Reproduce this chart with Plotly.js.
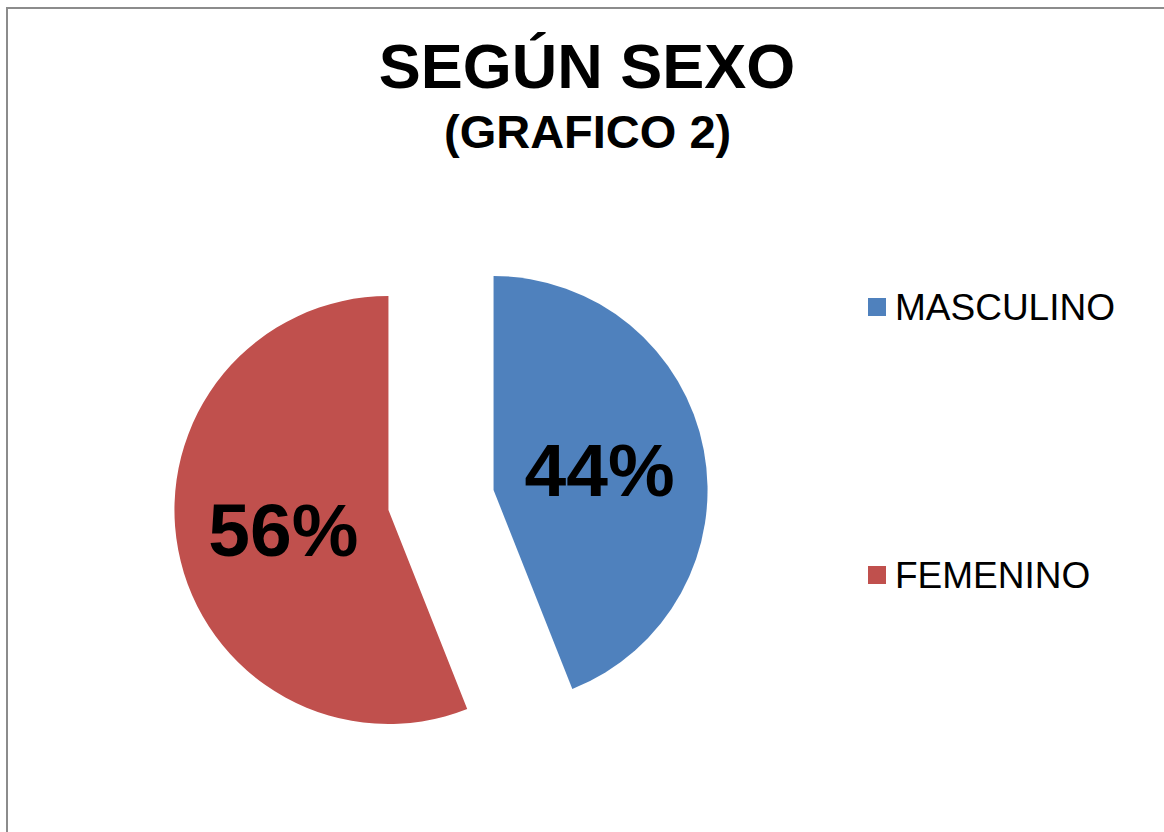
<!DOCTYPE html>
<html>
<head>
<meta charset="utf-8">
<script src="https://cdn.plot.ly/plotly-3.0.1.min.js"></script>
<style>
  html, body { margin: 0; padding: 0; background: #ffffff; }
  #chart { width: 1164px; height: 832px; }
</style>
</head>
<body>
<div id="chart"></div>
<script>
// Data
const categories = ['MASCULINO', 'FEMENINO'];
const values = [44, 56];
const colors = ['#4F81BD', '#C0504D'];
const titleMain = 'SEGÚN SEXO';
const titleSub = '(GRAFICO 2)';

const W = 1164, H = 832;
const FONT = 'Liberation Sans, Arial, sans-serif';

const trace = {
  type: 'pie',
  labels: categories,
  values: values,
  sort: false,
  direction: 'clockwise',
  rotation: 0,
  pull: [0.25, 0.25],
  marker: { colors: colors, line: { width: 0 } },
  textinfo: 'percent',
  textposition: 'inside',
  insidetextorientation: 'horizontal',
  textfont: { family: FONT, size: 75, color: '#000000', weight: 'bold' },
  domain: { x: [173.5 / W, 708.5 / W], y: [1 - 767.5 / H, 1 - 232.5 / H] },
  showlegend: false,
  hoverinfo: 'label+percent'
};

// Legend built as layout decoration (text from categories, colour from colors)
const legendTop = 307, legendGap = 268;
const annotations = [
  {
    text: '<b>' + titleSub + '</b>',
    xref: 'paper', yref: 'paper',
    x: 587 / W, y: 1 - 131 / H,
    xanchor: 'center', yanchor: 'middle',
    showarrow: false,
    font: { family: FONT, size: 47, color: '#000000' }
  }
];
const shapes = [
  {
    type: 'rect', xref: 'paper', yref: 'paper',
    x0: 7 / W, x1: 1.02, y0: -0.02, y1: 1 - 8 / H,
    line: { color: '#8C8C8C', width: 2 }, fillcolor: 'rgba(0,0,0,0)'
  }
];
categories.forEach((c, i) => {
  const yc = legendTop + i * legendGap;
  shapes.push({
    type: 'rect', xref: 'paper', yref: 'paper',
    x0: 868 / W, x1: 886 / W,
    y0: 1 - (yc + 9) / H, y1: 1 - (yc - 9) / H,
    line: { width: 0 }, fillcolor: colors[i]
  });
  annotations.push({
    text: c,
    xref: 'paper', yref: 'paper',
    x: 893 / W, y: 1 - yc / H,
    xanchor: 'left', yanchor: 'middle',
    showarrow: false,
    font: { family: FONT, size: 37, color: '#000000' }
  });
});

const layout = {
  width: W, height: H,
  margin: { l: 0, r: 0, t: 0, b: 0 },
  paper_bgcolor: '#ffffff',
  plot_bgcolor: '#ffffff',
  title: {
    text: '<b>' + titleMain + '</b>',
    x: 587 / W, xanchor: 'center',
    y: 1 - 66 / H, yanchor: 'middle',
    xref: 'paper', yref: 'container',
    font: { family: FONT, size: 63, color: '#000000' }
  },
  showlegend: false,
  annotations: annotations,
  shapes: shapes
};

Plotly.newPlot('chart', [trace], layout, { displayModeBar: false, staticPlot: true });
</script>
</body>
</html>
